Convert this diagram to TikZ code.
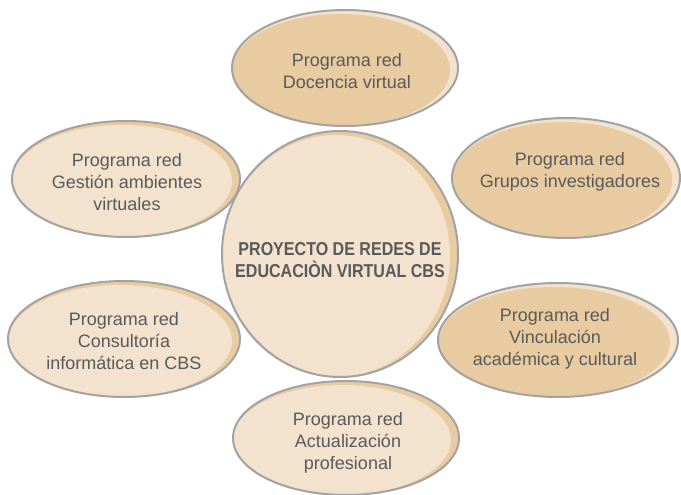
\documentclass[tikz,border=0pt]{standalone}
\usepackage{fontspec}
\setmainfont{Liberation Sans}
\newfontfamily\centrofont[FakeStretch=0.86]{Liberation Sans}
\definecolor{tostado}{HTML}{E8CBA0}
\definecolor{crema}{HTML}{F2E2CE}
\definecolor{borde}{HTML}{A3A3A3}
\definecolor{letra}{HTML}{5A5A5A}
\tikzset{
  contorno/.style={draw=borde, line width=1.5pt},
  programa/.style={text=letra, align=center, font=\fontsize{13.5}{16.3}\selectfont},
  proyecto/.style={text=letra, align=center, font=\centrofont\bfseries\fontsize{14}{16.3}\selectfont},
}
\begin{document}
\begin{tikzpicture}[x=0.75pt,y=-0.75pt]
  \useasboundingbox (0,0) rectangle (681,495);

  % burbujas: centro, radios, relleno, brillo
  \foreach \cx/\cy/\rx/\ry/\relleno/\brillo in {
      340/254/118/123/crema/tostado,
      345/68/113/58/tostado/crema,
      566/178/114/60/tostado/crema,
      558/340/120/57/tostado/crema,
      346/438/113/57/crema/tostado,
      124/339/116/58/crema/tostado,
      126/179/114/58/crema/tostado}{
    \fill[\brillo] (\cx,\cy) ellipse[x radius=\rx, y radius=\ry];
    \fill[\relleno] (\cx-4,\cy+2) ellipse[x radius=\rx-4, y radius=\ry-2];
    \draw[contorno] (\cx,\cy) ellipse[x radius=\rx, y radius=\ry];
  }

  \node[proyecto] (centro) at (340,260) {PROYECTO DE REDES DE\\EDUCACIÒN VIRTUAL CBS};
  \node[programa] (docencia) at (347,71) {Programa red\\Docencia virtual};
  \node[programa] (grupos) at (570,172) {Programa red\\Grupos investigadores};
  \node[programa] (vinculacion) at (555,339) {Programa red\\Vinculación\\académica y cultural};
  \node[programa] (actualizacion) at (348,443) {Programa red\\Actualización\\profesional};
  \node[programa] (consultoria) at (124,341) {Programa red\\Consultoría\\informática en CBS};
  \node[programa] (gestion) at (127,182) {Programa red\\Gestión ambientes\\virtuales};
\end{tikzpicture}
\end{document}
